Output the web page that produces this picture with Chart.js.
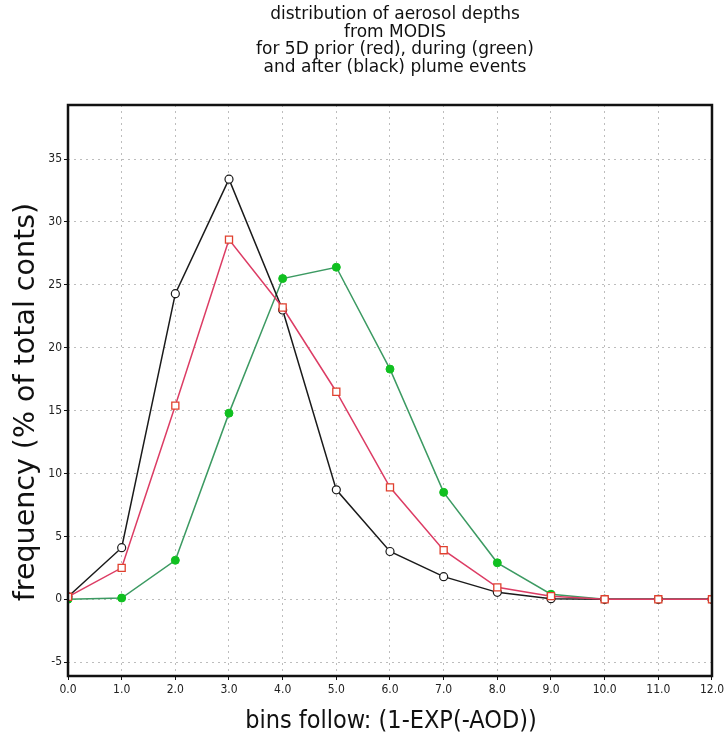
<!DOCTYPE html>
<html>
<head>
<meta charset="utf-8">
<script src="https://cdn.jsdelivr.net/npm/chart.js@4/dist/chart.umd.min.js"></script>
<style>
  html, body { margin: 0; padding: 0; background: #fff; }
  #wrap { width: 727px; height: 745px; }
</style>
</head>
<body>
<div id="wrap"><canvas id="chart" width="727" height="745"></canvas></div>
<script>
// Bin centres and tick labels
const bins = [0, 1, 2, 3, 4, 5, 6, 7, 8, 9, 10, 11, 12];
const xTicks = [0, 1, 2, 3, 4, 5, 6, 7, 8, 9, 10, 11, 12];
const yTicks = [-5, 0, 5, 10, 15, 20, 25, 30, 35];

// Frequency (% of total counts) per bin
const priorRed = [0.2, 2.5, 15.4, 28.6, 23.2, 16.5, 8.9, 3.9, 0.95, 0.25, 0, 0, 0];
const duringGreen = [0.0, 0.1, 3.1, 14.8, 25.5, 26.4, 18.3, 8.5, 2.9, 0.4, 0, 0, 0];
const afterBlack = [0.2, 4.1, 24.3, 33.4, 23.0, 8.7, 3.8, 1.8, 0.55, 0.05, 0, 0, 0];

const titleLines = [
    'distribution of aerosol depths',
    'from MODIS',
    'for 5D prior (red), during (green)',
    'and after (black) plume events'
];
const xTitle = 'bins follow: (1-EXP(-AOD))';
const yTitle = 'frequency (% of total conts)';

const NARROW = '"DejaVu Sans Condensed", "Liberation Sans Narrow", "DejaVu Sans", sans-serif';
const WIDE = '"DejaVu Sans", sans-serif';

function toPoints(values) {
    return bins.map((b, i) => ({ x: b, y: values[i] }));
}

// Titles and plot frame, drawn at fixed spots around the chart area
const decorations = {
    id: 'decorations',
    afterDraw(chart) {
        const ctx = chart.ctx;
        const area = chart.chartArea;
        ctx.save();

        // frame
        ctx.strokeStyle = '#111';
        ctx.lineWidth = 2.5;
        ctx.strokeRect(area.left, area.top, area.right - area.left, area.bottom - area.top);

        // main title
        ctx.fillStyle = '#111';
        ctx.textAlign = 'center';
        ctx.textBaseline = 'middle';
        ctx.font = '17px ' + WIDE;
        titleLines.forEach((line, i) => {
            ctx.fillText(line, 395, 15 + i * 17.5);
        });

        // x axis title
        ctx.font = '25px ' + NARROW;
        ctx.fillText(xTitle, 391, 721);

        // y axis title
        ctx.translate(27, 402);
        ctx.rotate(-Math.PI / 2);
        ctx.font = '28.5px ' + WIDE;
        ctx.fillText(yTitle, 0, 0);

        ctx.restore();
    }
};

const gridStyle = {
    color: '#bdbdbd',
    lineWidth: 1,
    drawTicks: true,
    tickLength: 4,
    tickColor: '#111',
};

new Chart(document.getElementById('chart'), {
    type: 'line',
    data: {
        datasets: [
            {
                label: 'prior',
                data: toPoints(priorRed),
                borderColor: '#dc3c64',
                borderWidth: 1.5,
                pointStyle: 'rect',
                pointRadius: 5,
                pointBorderColor: '#e0402e',
                pointBackgroundColor: '#ffffff',
                pointBorderWidth: 1.3,
                order: 0,
            },
            {
                label: 'after',
                data: toPoints(afterBlack),
                borderColor: '#1a1a1a',
                borderWidth: 1.5,
                pointStyle: 'circle',
                pointRadius: 4,
                pointBorderColor: '#1a1a1a',
                pointBackgroundColor: '#ffffff',
                pointBorderWidth: 1.2,
                order: 1,
            },
            {
                label: 'during',
                data: toPoints(duringGreen),
                borderColor: '#3c9a62',
                borderWidth: 1.5,
                pointStyle: 'circle',
                pointRadius: 4,
                pointBorderColor: '#10c020',
                pointBackgroundColor: '#10c020',
                pointBorderWidth: 1,
                order: 2,
            }
        ]
    },
    options: {
        responsive: false,
        animation: false,
        events: [],
        layout: { padding: { left: 0, right: 15, top: 105, bottom: 0 } },
        plugins: {
            legend: { display: false },
            tooltip: { enabled: false },
        },
        scales: {
            x: {
                type: 'linear',
                min: 0,
                max: 12,
                afterBuildTicks: s => { s.ticks = xTicks.map(v => ({ value: v })); },
                afterFit: s => { s.height = 69; },
                border: { display: false, dash: [2, 4] },
                grid: gridStyle,
                ticks: {
                    color: '#222',
                    padding: 3,
                    maxRotation: 0,
                    font: { family: NARROW, size: 12 },
                    callback: v => Number(v).toFixed(1),
                },
            },
            y: {
                min: -6.1,
                max: 39.3,
                afterBuildTicks: s => { s.ticks = yTicks.map(v => ({ value: v })); },
                afterFit: s => { s.width = 68; },
                border: { display: false, dash: [2, 4] },
                grid: gridStyle,
                ticks: {
                    color: '#222',
                    padding: 2,
                    font: { family: NARROW, size: 12 },
                    callback: v => String(v),
                },
            }
        }
    },
    plugins: [decorations]
});
</script>
</body>
</html>
